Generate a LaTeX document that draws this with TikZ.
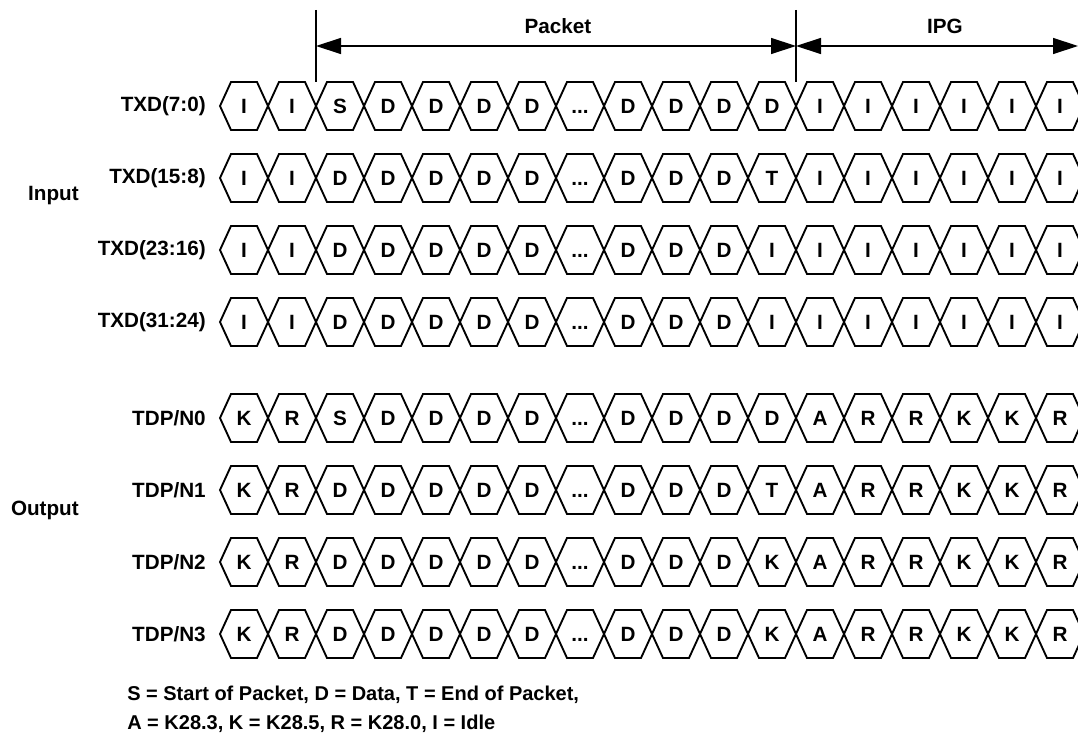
\documentclass[tikz,border=0pt]{standalone}
\usepackage{fontspec}
\setmainfont{Liberation Sans}
\usetikzlibrary{arrows.meta}

\tikzset{
  cellline/.style={line width=1.4pt, line join=miter},
  celltext/.style={font=\bfseries\fontsize{15.5}{18}\selectfont, inner sep=0pt},
  rowlabel/.style={font=\bfseries\fontsize{15.5}{18}\selectfont, anchor=east, inner sep=0pt},
  grouplabel/.style={font=\bfseries\fontsize{15.5}{18}\selectfont, inner sep=0pt},
  legendtext/.style={font=\bfseries\fontsize{15}{18}\selectfont, inner sep=0pt, anchor=west},
  spanarrow/.style={line width=1pt, {Triangle[length=18.75pt,width=12pt]}-{Triangle[length=18.75pt,width=12pt]}},
  marker/.style={line width=1.4pt},
}

\newcommand{\gap}{\vphantom{D}...}
% one row of code-group cells: name, y, letters
\newcommand{\cellrow}[3]{%
  \foreach \c [count=\k from 0] in {#3} {
    \draw[cellline] ({220+48*\k},#2) -- ++(11,-24) -- ++(26,0) -- ++(11,24)
      -- ++(-11,24) -- ++(-26,0) -- cycle;
    \node[celltext] (#1-\k) at ({244+48*\k},#2) {\c};
  }%
}

\begin{document}
\begin{tikzpicture}[x=0.75pt,y=-0.75pt]
    \useasboundingbox (0,0) rectangle (1078,738);

    % packet / IPG markers
    \coordinate (pstarttop) at (316,10);
    \coordinate (pstartbot) at (316,82);
    \coordinate (pendtop) at (796,10);
    \coordinate (pendbot) at (796,82);
    \coordinate (pstart) at (316,46);
    \coordinate (pend) at (796,46);
    \coordinate (ipgend) at (1078,46);
    \draw[marker] (pstarttop) -- (pstartbot);
    \draw[marker] (pendtop) -- (pendbot);
    \draw[spanarrow] (pstart) -- (pend);
    \draw[spanarrow] (pend) -- (ipgend);
    \node[grouplabel] (packet) at (558,26) {Packet};
    \node[grouplabel] (ipg) at (945,26) {IPG};

    % input lanes
    \node[grouplabel, anchor=east] (input) at (79,196) {Input};
    \node[rowlabel] (txd0) at (206,106) {TXD(7:0)};
    \node[rowlabel] (txd1) at (206,178) {TXD(15:8)};
    \node[rowlabel] (txd2) at (206,250) {TXD(23:16)};
    \node[rowlabel] (txd3) at (206,322) {TXD(31:24)};
    \cellrow{in0}{106}{I,I,S,D,D,D,D,\gap,D,D,D,D,I,I,I,I,I,I}
    \cellrow{in1}{178}{I,I,D,D,D,D,D,\gap,D,D,D,T,I,I,I,I,I,I}
    \cellrow{in2}{250}{I,I,D,D,D,D,D,\gap,D,D,D,I,I,I,I,I,I,I}
    \cellrow{in3}{322}{I,I,D,D,D,D,D,\gap,D,D,D,I,I,I,I,I,I,I}

    % output lanes
    \node[grouplabel, anchor=east] (output) at (79,510) {Output};
    \node[rowlabel] (tdp0) at (206,418) {TDP/N0};
    \node[rowlabel] (tdp1) at (206,490) {TDP/N1};
    \node[rowlabel] (tdp2) at (206,562) {TDP/N2};
    \node[rowlabel] (tdp3) at (206,634) {TDP/N3};
    \cellrow{out0}{418}{K,R,S,D,D,D,D,\gap,D,D,D,D,A,R,R,K,K,R}
    \cellrow{out1}{490}{K,R,D,D,D,D,D,\gap,D,D,D,T,A,R,R,K,K,R}
    \cellrow{out2}{562}{K,R,D,D,D,D,D,\gap,D,D,D,K,A,R,R,K,K,R}
    \cellrow{out3}{634}{K,R,D,D,D,D,D,\gap,D,D,D,K,A,R,R,K,K,R}

    % legend
    \node[legendtext] (legend1) at (127,695) {S = Start of Packet, D = Data, T = End of Packet,};
    \node[legendtext] (legend2) at (127,724) {A = K28.3, K = K28.5, R = K28.0, I = Idle};
\end{tikzpicture}
\end{document}
